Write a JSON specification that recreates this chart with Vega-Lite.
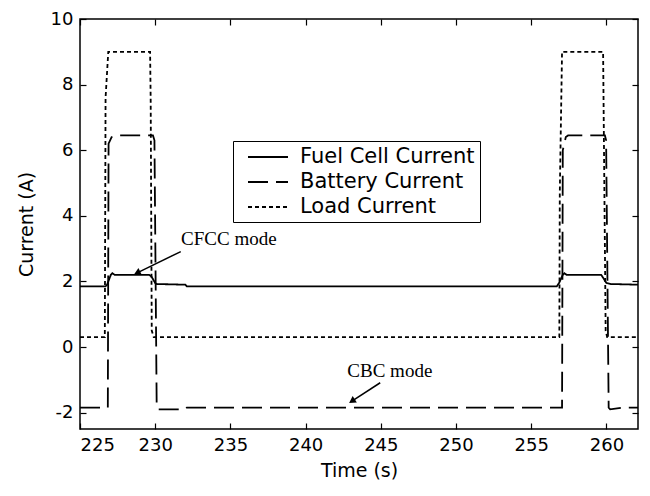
{
  "$schema": "https://vega.github.io/schema/vega-lite/v6.json",
  "width": 558,
  "height": 410,
  "autosize": {"type": "none"},
  "padding": {"left": 80, "top": 19, "right": 12, "bottom": 67},
  "background": "white",
  "config": {
    "view": {"stroke": "black", "strokeWidth": 1.5},
    "axis": {
      "domain": false,
      "grid": false,
      "tickColor": "black",
      "tickSize": -6,
      "tickWidth": 1.2,
      "labelColor": "black",
      "labelFont": "DejaVu Sans",
      "labelFontSize": 18,
      "titleFont": "DejaVu Sans",
      "titleFontSize": 19,
      "titleFontWeight": "normal",
      "titleColor": "black"
    },
    "legend": {
      "orient": "none",
      "legendX": 153,
      "legendY": 122,
      "padding": 5,
      "strokeColor": "black",
      "fillColor": "white",
      "symbolType": "M-2,0L2,0",
      "symbolSize": 400,
      "symbolStrokeWidth": 2,
      "symbolStrokeColor": "black",
      "symbolOffset": 19,
      "labelOffset": 21,
      "labelFont": "DejaVu Sans",
      "labelFontSize": 21,
      "labelColor": "black",
      "rowPadding": 4,
      "labelLimit": 300
    }
  },
  "datasets": {
    "series": [
      {"t": 225, "v": 1.85, "s": "Fuel Cell Current"},
      {"t": 226.7, "v": 1.85, "s": "Fuel Cell Current"},
      {"t": 226.8, "v": 1.9, "s": "Fuel Cell Current"},
      {"t": 227.05, "v": 2.2, "s": "Fuel Cell Current"},
      {"t": 227.15, "v": 2.25, "s": "Fuel Cell Current"},
      {"t": 227.3, "v": 2.2, "s": "Fuel Cell Current"},
      {"t": 229.6, "v": 2.2, "s": "Fuel Cell Current"},
      {"t": 229.75, "v": 2.15, "s": "Fuel Cell Current"},
      {"t": 230.0, "v": 1.95, "s": "Fuel Cell Current"},
      {"t": 230.1, "v": 1.92, "s": "Fuel Cell Current"},
      {"t": 232.0, "v": 1.9, "s": "Fuel Cell Current"},
      {"t": 232.1, "v": 1.85, "s": "Fuel Cell Current"},
      {"t": 256.7, "v": 1.85, "s": "Fuel Cell Current"},
      {"t": 256.85, "v": 1.95, "s": "Fuel Cell Current"},
      {"t": 257.1, "v": 2.2, "s": "Fuel Cell Current"},
      {"t": 257.2, "v": 2.25, "s": "Fuel Cell Current"},
      {"t": 257.35, "v": 2.2, "s": "Fuel Cell Current"},
      {"t": 259.65, "v": 2.2, "s": "Fuel Cell Current"},
      {"t": 259.8, "v": 2.1, "s": "Fuel Cell Current"},
      {"t": 260.0, "v": 1.95, "s": "Fuel Cell Current"},
      {"t": 260.3, "v": 1.92, "s": "Fuel Cell Current"},
      {"t": 262.1, "v": 1.9, "s": "Fuel Cell Current"},

      {"t": 225, "v": -1.85, "s": "Battery Current"},
      {"t": 226.85, "v": -1.85, "s": "Battery Current"},
      {"t": 226.9, "v": 6.2, "s": "Battery Current"},
      {"t": 227.1, "v": 6.4, "s": "Battery Current"},
      {"t": 227.35, "v": 6.45, "s": "Battery Current"},
      {"t": 229.85, "v": 6.45, "s": "Battery Current"},
      {"t": 229.95, "v": 6.3, "s": "Battery Current"},
      {"t": 230.1, "v": -1.85, "s": "Battery Current"},
      {"t": 230.2, "v": -1.9, "s": "Battery Current"},
      {"t": 232.0, "v": -1.9, "s": "Battery Current"},
      {"t": 232.1, "v": -1.85, "s": "Battery Current"},
      {"t": 257.05, "v": -1.85, "s": "Battery Current"},
      {"t": 257.1, "v": 6.0, "s": "Battery Current"},
      {"t": 257.3, "v": 6.4, "s": "Battery Current"},
      {"t": 257.45, "v": 6.45, "s": "Battery Current"},
      {"t": 259.9, "v": 6.45, "s": "Battery Current"},
      {"t": 259.98, "v": 6.3, "s": "Battery Current"},
      {"t": 260.15, "v": -1.85, "s": "Battery Current"},
      {"t": 260.25, "v": -1.9, "s": "Battery Current"},
      {"t": 261.0, "v": -1.85, "s": "Battery Current"},
      {"t": 262.1, "v": -1.85, "s": "Battery Current"},

      {"t": 225, "v": 0.3, "s": "Load Current"},
      {"t": 226.65, "v": 0.3, "s": "Load Current"},
      {"t": 226.7, "v": 7.6, "s": "Load Current"},
      {"t": 226.88, "v": 9.0, "s": "Load Current"},
      {"t": 229.66, "v": 9.0, "s": "Load Current"},
      {"t": 229.7, "v": 7.5, "s": "Load Current"},
      {"t": 229.77, "v": 0.5, "s": "Load Current"},
      {"t": 229.9, "v": 0.3, "s": "Load Current"},
      {"t": 256.87, "v": 0.3, "s": "Load Current"},
      {"t": 256.9, "v": 4.7, "s": "Load Current"},
      {"t": 257.05, "v": 9.0, "s": "Load Current"},
      {"t": 259.78, "v": 9.0, "s": "Load Current"},
      {"t": 259.82, "v": 7.0, "s": "Load Current"},
      {"t": 259.95, "v": 0.5, "s": "Load Current"},
      {"t": 260.05, "v": 0.3, "s": "Load Current"},
      {"t": 262.1, "v": 0.3, "s": "Load Current"}
    ],
    "notes": [
      {"label": "CFCC mode", "tx": 234.9, "ty": 3.1, "x1": 231.7, "y1": 2.91, "x2": 228.8, "y2": 2.26},
      {"label": "CBC mode", "tx": 245.6, "ty": -0.9, "x1": 244.96, "y1": -1.09, "x2": 243.08, "y2": -1.65}
    ]
  },
  "resolve": {"axis": {"x": "independent", "y": "independent"}},
  "layer": [
    {
      "data": {"name": "series"},
      "mark": {"type": "line", "strokeWidth": 1.8, "color": "black"},
      "encoding": {
        "x": {
          "field": "t", "type": "quantitative",
          "scale": {"domain": [225, 262.1], "nice": false, "zero": false},
          "axis": {"title": "Time (s)", "values": [225, 230, 235, 240, 245, 250, 255, 260], "labelPadding": 13, "titlePadding": 7}
        },
        "y": {
          "field": "v", "type": "quantitative",
          "scale": {"domain": [-2.5, 10], "nice": false, "zero": false},
          "axis": {"title": "Current (A)", "values": [-2, 0, 2, 4, 6, 8, 10], "labelExpr": "datum.value + ''", "labelPadding": 13, "titlePadding": 14}
        },
        "strokeDash": {
          "field": "s", "type": "nominal",
          "scale": {"domain": ["Fuel Cell Current", "Battery Current", "Load Current"], "range": [[1, 0], [20, 8], [4, 3]]},
          "legend": {"title": null}
        },
        "order": {"field": "t", "type": "quantitative"}
      }
    },
    {
      "data": {"name": "series"},
      "mark": {"type": "point", "opacity": 0},
      "encoding": {
        "x": {"field": "t", "type": "quantitative", "axis": {"orient": "top", "labels": false, "title": null, "values": [225, 230, 235, 240, 245, 250, 255, 260]}},
        "y": {"field": "v", "type": "quantitative", "axis": {"orient": "right", "labels": false, "title": null, "values": [-2, 0, 2, 4, 6, 8, 10]}}
      }
    },
    {
      "data": {"name": "notes"},
      "mark": {"type": "rule", "color": "black", "strokeWidth": 1.5},
      "encoding": {
        "x": {"field": "x1", "type": "quantitative", "axis": null},
        "y": {"field": "y1", "type": "quantitative", "axis": null},
        "x2": {"field": "x2"},
        "y2": {"field": "y2"}
      }
    },
    {
      "data": {"name": "notes"},
      "transform": [{"filter": "datum.label == 'CFCC mode'"}],
      "mark": {"type": "point", "shape": "triangle-up", "filled": true, "color": "black", "opacity": 1, "size": 60, "angle": 244},
      "encoding": {
        "x": {"field": "x2", "type": "quantitative", "axis": null},
        "y": {"field": "y2", "type": "quantitative", "axis": null}
      }
    },
    {
      "data": {"name": "notes"},
      "transform": [{"filter": "datum.label == 'CBC mode'"}],
      "mark": {"type": "point", "shape": "triangle-up", "filled": true, "color": "black", "opacity": 1, "size": 60, "angle": 237},
      "encoding": {
        "x": {"field": "x2", "type": "quantitative", "axis": null},
        "y": {"field": "y2", "type": "quantitative", "axis": null}
      }
    },
    {
      "data": {"name": "notes"},
      "mark": {"type": "text", "font": "Liberation Serif", "fontSize": 19, "color": "black", "baseline": "alphabetic", "align": "center"},
      "encoding": {
        "x": {"field": "tx", "type": "quantitative", "axis": null},
        "y": {"field": "ty", "type": "quantitative", "axis": null},
        "text": {"field": "label"}
      }
    }
  ]
}
